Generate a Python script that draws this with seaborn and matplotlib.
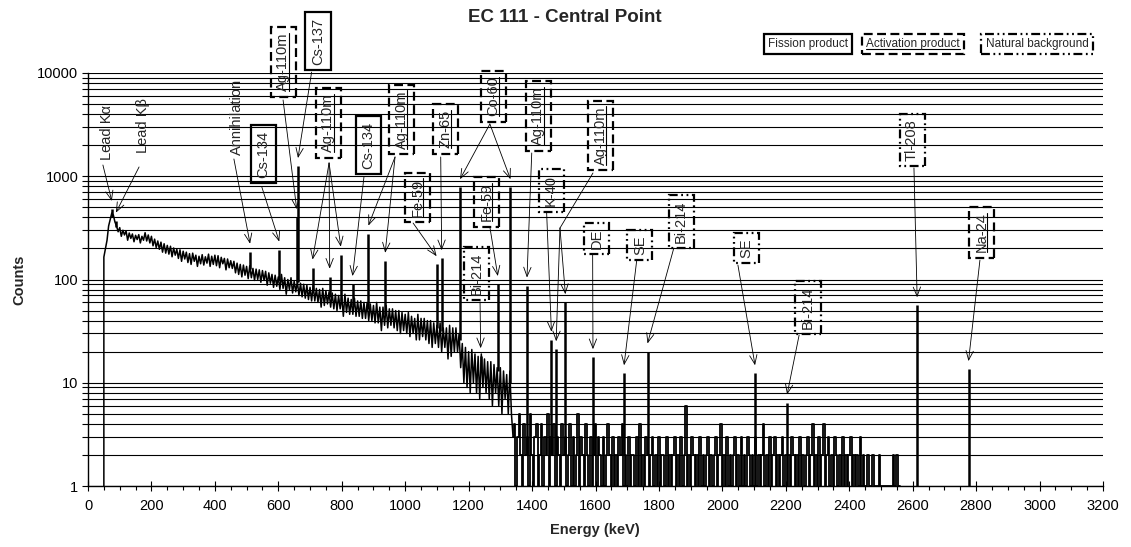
import numpy as np
import pandas as pd
import matplotlib
matplotlib.use("Agg")
import matplotlib.pyplot as plt
import seaborn as sns
from matplotlib.lines import Line2D
from matplotlib.transforms import IdentityTransform
from matplotlib.ticker import FixedLocator, MultipleLocator, NullFormatter, FixedFormatter

# ---------------- spectrum data ----------------
# detector threshold onset
onset_kev = [50, 50, 55]
onset_counts = [1, 165, 200]

# Compton continuum, 60 .. 1340 keV every 5 keV
continuum_start_kev = 60
continuum_step_kev = 5
continuum_counts = [
    240, 330, 380, 440, 420, 360, 330, 290, 318, 262, 300, 270, 296, 240, 282, 250, 276, 232, 268, 244,
    272, 226, 262, 240, 284, 236, 270, 226, 262, 212, 246, 204, 236, 196, 230, 184, 222, 180, 214, 176,
    210, 166, 202, 172, 196, 160, 194, 150, 188, 158, 184, 146, 178, 140, 180, 150, 172, 134, 168, 142,
    174, 138, 166, 144, 176, 134, 168, 140, 172, 136, 170, 130, 164, 142, 160, 124, 158, 130, 152, 128,
    150, 116, 144, 112, 140, 106, 138, 110, 134, 102, 136, 104, 128, 98, 126, 100, 124, 94, 122, 98,
    120, 88, 116, 92, 112, 84, 110, 86, 106, 80, 112, 82, 104, 72, 100, 80, 104, 74, 96, 76,
    96, 70, 92, 68, 90, 66, 88, 64, 84, 62, 88, 62, 82, 60, 80, 54, 82, 56, 78, 58,
    76, 54, 74, 52, 72, 50, 70, 52, 68, 44, 72, 48, 66, 46, 64, 46, 66, 44, 62, 44,
    62, 42, 60, 42, 60, 40, 58, 40, 56, 38, 60, 38, 54, 32, 54, 36, 56, 34, 52, 36,
    52, 34, 50, 32, 50, 30, 48, 32, 46, 30, 48, 28, 44, 30, 42, 26, 46, 26, 42, 28,
    42, 26, 40, 24, 40, 22, 38, 24, 36, 22, 38, 20, 34, 22, 34, 17, 36, 18, 34, 20,
    34, 20, 30, 14, 24, 10, 22, 9, 20, 8, 21, 10, 19, 8, 18, 7, 19, 9, 17, 8,
    16, 7, 16, 6, 15, 8, 14, 6, 14, 5, 13, 7, 12, 5, 13, 5, 3,
]

# low-count tail, 1345 .. 2560 keV every 5 keV
tail_start_kev = 1345
tail_step_kev = 5
tail_counts = [
    4, 1, 3, 5, 2, 1, 4, 2, 3, 1, 5, 2, 1, 3, 4, 1, 2, 4, 1, 3, 2, 5, 1, 3,
    2, 4, 1, 3, 2, 1, 4, 2, 3, 1, 2, 4, 1, 3, 1, 2, 5, 1, 3, 2, 1, 4, 2, 1,
    3, 1, 2, 4, 1, 3, 2, 1, 3, 1, 2, 4, 2, 1, 3, 1, 2, 1, 3, 2, 4, 1, 2, 1,
    3, 1, 2, 2, 1, 3, 1, 4, 1, 2, 1, 3, 2, 1, 2, 3, 1, 2, 1, 3, 1, 2, 2, 1,
    3, 1, 2, 1, 2, 3, 1, 2, 1, 3, 1, 2, 6, 1, 2, 1, 3, 2, 1, 2, 1, 3, 1, 2,
    1, 2, 3, 1, 2, 1, 2, 3, 1, 2, 4, 1, 2, 1, 3, 1, 2, 1, 2, 3, 1, 2, 1, 3,
    1, 2, 1, 3, 2, 1, 2, 1, 3, 1, 2, 1, 2, 4, 1, 2, 1, 3, 1, 2, 3, 1, 2, 1,
    2, 3, 1, 2, 1, 2, 1, 3, 2, 1, 2, 1, 3, 1, 2, 1, 2, 3, 1, 2, 4, 1, 2, 1,
    3, 1, 2, 4, 1, 2, 3, 1, 2, 1, 3, 2, 1, 2, 1, 3, 1, 2, 1, 2, 3, 1, 2, 1,
    2, 1, 3, 1, 2, 1, 1, 2, 1, 1, 2, 1, 1, 1, 2, 1,
    1, 1, 1, 1, 1, 1, 1, 2, 1, 2, 1, 1,
]

# photopeaks: energy, top, foot
peak_kev = [75, 88, 511, 603, 658, 662, 708, 762, 797, 834, 884, 937,
            1099, 1115, 1173, 1238, 1292, 1332, 1384, 1461, 1476, 1505,
            1592, 1690, 1764, 2103, 2204, 2614, 2776]
peak_top = [480, 370, 185, 194, 400, 1250, 130, 106, 173, 90, 277, 151,
            140, 160, 780, 18, 90, 780, 87, 26, 21, 60,
            17.6, 12.3, 20, 12.3, 6.4, 56, 13.5]
peak_foot = [400, 320, 125, 100, 95, 95, 80, 68, 62, 56, 52, 46,
             34, 32, 26, 13, 13, 10, 2, 2, 2, 2,
             2, 2, 2, 2, 2, 1, 1]

# ---------------- annotation data ----------------
label_text = ["Lead Kα", "Lead Kβ", "Annihilation", "Cs-134", "Ag-110m", "Cs-137",
              "Ag-110m", "Cs-134", "Ag-110m", "Fe-59", "Zn-65", "Co-60",
              "Ag-110m", "Ag-110m", "K-40", "Fe-59", "Bi-214", "DE", "SE",
              "Bi-214", "SE", "Bi-214", "Tl-208", "Na-24"]
label_kind = ["plain", "plain", "plain", "fission", "activation", "fission",
              "activation", "fission", "activation", "activation", "activation", "activation",
              "activation", "activation", "natural", "activation", "natural", "natural", "natural",
              "natural", "natural", "natural", "natural", "activation"]
label_kev = [60, 173, 470, 552, 616, 725, 758, 883, 989, 1040, 1126, 1277,
             1420, 1616, 1460, 1257, 1225, 1604, 1740, 1870, 2077, 2270, 2598, 2818]
label_counts = [2680, 3130, 3750, 1640, 12800, 20400, 3280, 1990, 3550, 623, 2870, 5920,
                3830, 2480, 728, 563, 114, 250, 216, 365, 202, 53.6, 2245, 285]

# leader arrows: tail energy, tail counts, target peak energy
arrow_tail_kev = [47, 161, 460, 548, 615, 705, 760, 760, 760, 870, 968, 968, 1025, 1112,
                  1267, 1267, 1399, 1446, 1267, 1236, 1591, 1730, 1847, 2049, 2242, 2604, 2812]
arrow_tail_counts = [1285, 1230, 1470, 787, 5480, 10200, 1344, 1344, 1344, 984, 1536, 1536,
                     352, 1536, 3207, 3207, 1680, 441, 322, 60.6, 173, 154, 202, 138, 29,
                     1203, 154]
arrow_peak = [75, 88, 511, 603, 658, 662, 708, 762, 797, 834, 884, 937, 1099, 1115,
              1173, 1332, 1384, 1461, 1292, 1238, 1592, 1690, 1764, 2103, 2204, 2614, 2776]

# split leader of the last Ag-110m label
split_tail = (1592, 1075)
split_node = (1488, 315)
split_peaks = [1476, 1505]

legend_text = ["Fission product", "Activation product", "Natural background"]
legend_kind = ["fission", "activation", "natural"]

# ---------------- styling ----------------
sns.set_theme(style="white")
plt.rcParams["font.family"] = ["Liberation Sans", "DejaVu Sans"]

box_ls = {
    "fission": "-",
    "activation": (0, (4, 2)),
    "natural": (0, (4, 1.6, 0.8, 1.6, 0.8, 1.6)),
}

W, H = 1131, 547
fig = plt.figure(figsize=(W / 100, H / 100), dpi=100)
fig.patch.set_facecolor("white")
ax = fig.add_axes([88 / W, 1 - 486 / H, (1103 - 88) / W, (486 - 73) / H])
ax.set_facecolor("white")

low = pd.DataFrame({
    "energy": onset_kev
    + list(continuum_start_kev + continuum_step_kev * np.arange(len(continuum_counts))),
    "counts": onset_counts + continuum_counts,
})
high = pd.DataFrame({
    "energy": tail_start_kev + tail_step_kev * np.arange(len(tail_counts)),
    "counts": tail_counts,
})
high = pd.concat([low.tail(1), high], ignore_index=True)

sns.lineplot(data=low, x="energy", y="counts", ax=ax, color="black", lw=1.1,
             estimator=None, sort=False)
sns.lineplot(data=high, x="energy", y="counts", ax=ax, color="black", lw=1.3,
             estimator=None, sort=False, drawstyle="steps-mid")
ax.vlines(peak_kev, peak_foot, peak_top, color="black", lw=1.8)

ax.set_yscale("log")
ax.set_xlim(0, 3200)
ax.set_ylim(1, 10000)

ax.yaxis.set_major_locator(FixedLocator([1, 10, 100, 1000, 10000]))
ax.yaxis.set_major_formatter(FixedFormatter(["1", "10", "100", "1000", "10000"]))
minors = [m * 10 ** d for d in range(4) for m in range(2, 10)]
ax.yaxis.set_minor_locator(FixedLocator(minors))
ax.yaxis.set_minor_formatter(NullFormatter())
ax.xaxis.set_major_locator(MultipleLocator(200))
ax.xaxis.set_minor_locator(MultipleLocator(50))

ax.grid(True, axis="y", which="both", color="black", lw=0.8)
ax.grid(False, axis="x", which="both")
for s in ["top", "right"]:
    ax.spines[s].set_visible(False)
for s in ["left", "bottom"]:
    ax.spines[s].set_color("black")
    ax.spines[s].set_linewidth(1.0)

ax.tick_params(axis="y", which="both", direction="out", length=4, width=0.8,
               color="black", left=True, labelsize=10.5, pad=3, labelcolor="black")
ax.tick_params(axis="x", which="major", direction="inout", length=7, width=0.8,
               color="black", bottom=True, labelsize=10.5, pad=6, labelcolor="black")
ax.tick_params(axis="x", which="minor", direction="out", length=3, width=0.8,
               color="black", bottom=True)
ax.set_xlabel("")
ax.set_ylabel("")

fig.text(565 / W, 1 - 17 / H, "EC 111 - Central Point", ha="center", va="center",
         fontsize=13.5, weight="bold")
fig.text(595 / W, 1 - 530 / H, "Energy (keV)", ha="center", va="center",
         fontsize=10.5, weight="bold")
fig.text(19 / W, 1 - 280 / H, "Counts", ha="center", va="center", rotation=90,
         fontsize=10.5, weight="bold")

underlined = []

# peak labels
for txt, kind, e, c in zip(label_text, label_kind, label_kev, label_counts):
    if kind == "plain":
        t = ax.text(e, c, txt, rotation=90, ha="center", va="center", fontsize=10.5,
                    clip_on=False)
    else:
        t = ax.text(e, c, txt, rotation=90, ha="center", va="center", fontsize=10.5,
                    clip_on=False,
                    bbox=dict(boxstyle="square,pad=0.38", fc="none", ec="black",
                              lw=1.6, ls=box_ls[kind]))
        if kind == "activation":
            underlined.append((t, "v"))

peak_lookup = dict(zip(peak_kev, peak_top))
arrow_kw = dict(arrowstyle="->,head_length=0.55,head_width=0.22", lw=0.6, color="black",
                shrinkA=0, shrinkB=0)
for te, tc, pk in zip(arrow_tail_kev, arrow_tail_counts, arrow_peak):
    ax.annotate("", xy=(pk, peak_lookup[pk] * 1.2), xytext=(te, tc),
                arrowprops=arrow_kw, annotation_clip=False)

ax.annotate("", xy=split_node, xytext=split_tail,
            arrowprops=dict(arrowstyle="-", lw=0.6, color="black", shrinkA=0, shrinkB=0),
            annotation_clip=False)
for pk in split_peaks:
    ax.annotate("", xy=(pk, peak_lookup[pk] * 1.2), xytext=split_node,
                arrowprops=arrow_kw, annotation_clip=False)

# category key
legend_x = [808, 913, 1037]
for txt, kind, xc in zip(legend_text, legend_kind, legend_x):
    t = fig.text(xc / W, 1 - 44 / H, txt, ha="center", va="center", fontsize=8.5,
                 bbox=dict(boxstyle="square,pad=0.35", fc="none", ec="black",
                           lw=1.6, ls=box_ls[kind]))
    if kind == "activation":
        underlined.append((t, "h"))

# underline activation-product names
fig.canvas.draw()
renderer = fig.canvas.get_renderer()
for t, orient in underlined:
    bb = t.get_window_extent(renderer)
    em = t.get_fontsize() * fig.dpi / 72
    if orient == "v":
        x = bb.x1 - 0.1 * em
        fig.add_artist(Line2D([x, x], [bb.y0, bb.y1], transform=IdentityTransform(),
                              color="black", lw=0.8))
    else:
        y = bb.y0 + 0.1 * em
        fig.add_artist(Line2D([bb.x0, bb.x1], [y, y], transform=IdentityTransform(),
                              color="black", lw=0.8))

fig.savefig("out.png", dpi=100, facecolor="white")
